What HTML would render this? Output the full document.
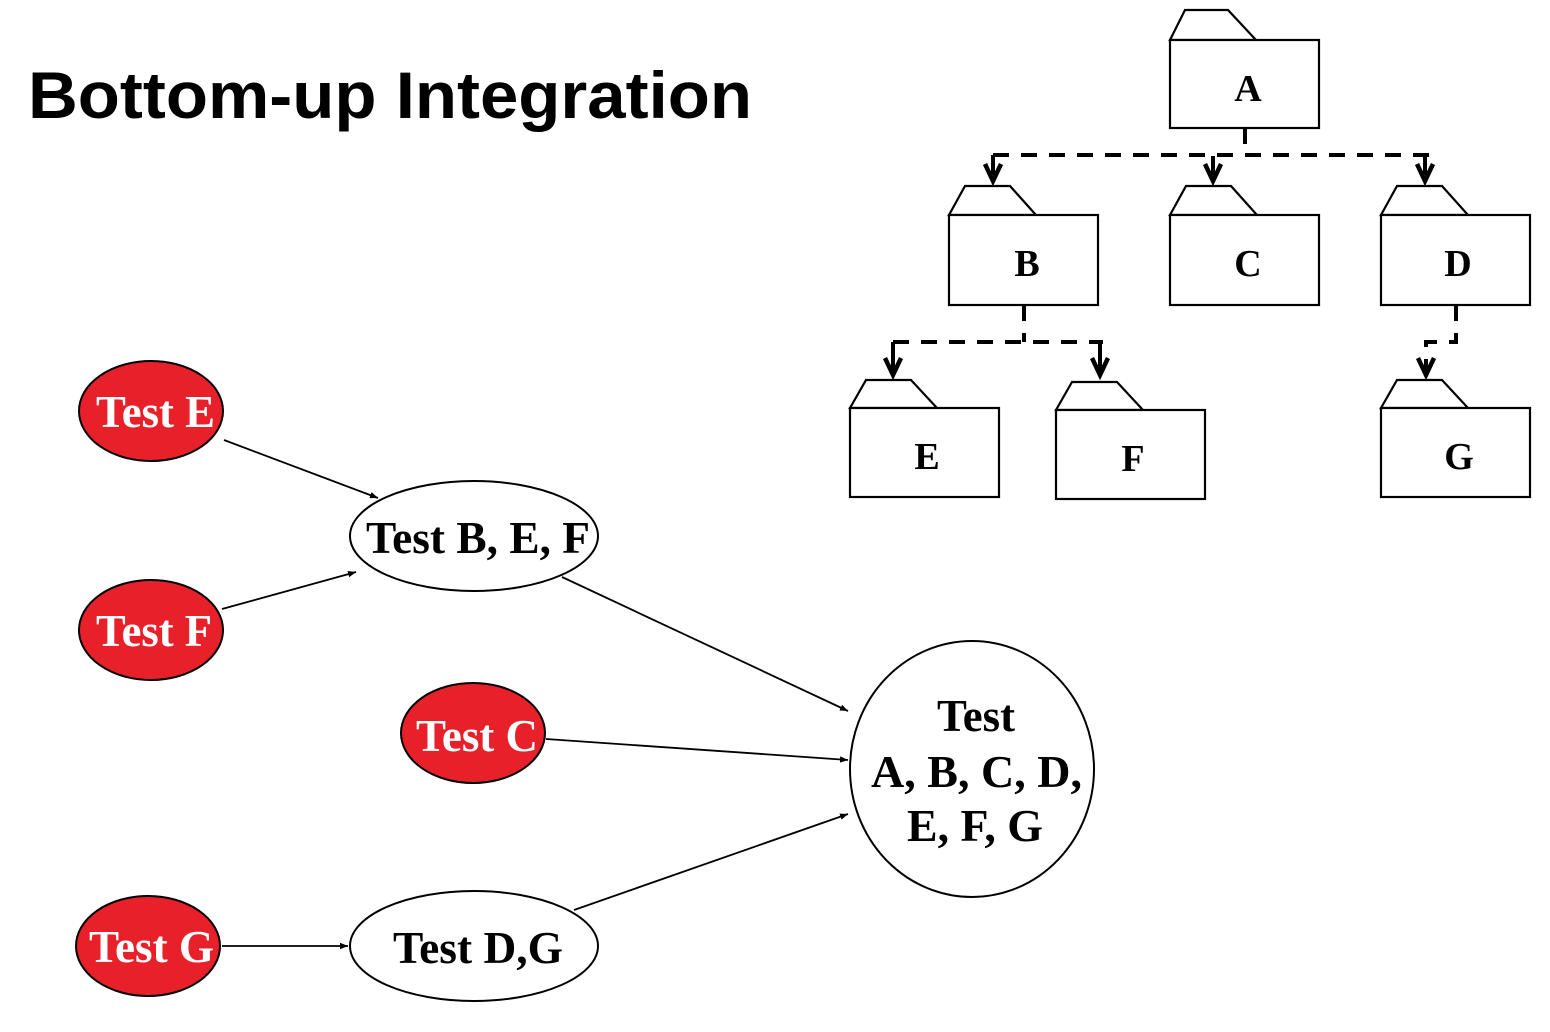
<!DOCTYPE html>
<html><head><meta charset="utf-8"><style>
html,body{margin:0;padding:0;background:#fff;}
svg{display:block;}
.fl{fill:#fff;stroke:#000;stroke-width:2.2;}
.lb{font-family:"Liberation Serif",serif;font-weight:bold;font-size:38px;text-anchor:middle;fill:#000;}
.ah{fill:none;stroke:#000;stroke-width:4.5;stroke-linejoin:miter;}
.red{fill:#e8202a;stroke:#000;stroke-width:2;}
.wh{fill:#fff;stroke:#000;stroke-width:2;}
.rt{font-family:"Liberation Serif",serif;font-weight:bold;font-size:45px;fill:#fff;}
.bt{font-family:"Liberation Serif",serif;font-weight:bold;font-size:45px;fill:#000;}
.ln{stroke:#000;stroke-width:1.8;fill:none;}
</style></head><body>
<svg width="1550" height="1032" viewBox="0 0 1550 1032">
<defs><marker id="m" viewBox="0 0 10 10" refX="10" refY="5" markerWidth="8" markerHeight="8" markerUnits="userSpaceOnUse" orient="auto"><path d="M0,1 L10,5 L0,9 z" fill="#000"/></marker></defs>
<text x="28" y="118" font-family="'Liberation Sans',sans-serif" font-weight="bold" font-size="66" textLength="724" lengthAdjust="spacingAndGlyphs">Bottom-up Integration</text>

<g><polygon class="fl" points="1170,40 1185,10 1228,10 1256,40"/><rect class="fl" x="1170" y="40" width="149" height="88"/><text class="lb" x="1248" y="101">A</text></g>
<g><polygon class="fl" points="949,215 965,186 1010,186 1036,215"/><rect class="fl" x="949" y="215" width="149" height="90"/><text class="lb" x="1027" y="276">B</text></g>
<g><polygon class="fl" points="1170,215 1186,186 1231,186 1257,215"/><rect class="fl" x="1170" y="215" width="149" height="90"/><text class="lb" x="1248" y="276">C</text></g>
<g><polygon class="fl" points="1381,215 1397,186 1442,186 1468,215"/><rect class="fl" x="1381" y="215" width="149" height="90"/><text class="lb" x="1458" y="276">D</text></g>
<g><polygon class="fl" points="850,408 866,380 911,380 937,408"/><rect class="fl" x="850" y="408" width="149" height="89"/><text class="lb" x="927" y="469">E</text></g>
<g><polygon class="fl" points="1056,410 1072,382 1117,382 1143,410"/><rect class="fl" x="1056" y="410" width="149" height="89"/><text class="lb" x="1133" y="471">F</text></g>
<g><polygon class="fl" points="1381,408 1397,380 1442,380 1468,408"/><rect class="fl" x="1381" y="408" width="149" height="89"/><text class="lb" x="1459" y="469">G</text></g>

<path d="M1245,128 V148 M993,155 H1430" stroke="#000" stroke-width="4" stroke-dasharray="16,12" fill="none"/>
<path d="M993,155 V175 M1213,156 V175 M1425,157 V175" stroke="#000" stroke-width="4" fill="none"/>
<path class="ah" d="M985,164 L993,181 L1001,164 M1205,164 L1213,181 L1221,164 M1417,164 L1425,181 L1433,164"/>
<path d="M1024,305 V342 M893,342 H1103" stroke="#000" stroke-width="4" stroke-dasharray="16,12" fill="none"/>
<path d="M893,342 V370 M1100,342 V370" stroke="#000" stroke-width="4" fill="none"/>
<path class="ah" d="M885,358 L893,375 L901,358 M1092,358 L1100,375 L1108,358"/>
<path d="M1456,305 V342 H1426 V370" stroke="#000" stroke-width="4" stroke-dasharray="16,12" fill="none"/>
<path class="ah" d="M1418,358 L1426,375 L1434,358"/>

<g>
<line class="ln" x1="224" y1="440" x2="378" y2="498" marker-end="url(#m)"/>
<line class="ln" x1="222" y1="609" x2="356" y2="572" marker-end="url(#m)"/>
<line class="ln" x1="562" y1="577" x2="848" y2="711" marker-end="url(#m)"/>
<line class="ln" x1="546" y1="739" x2="848" y2="760" marker-end="url(#m)"/>
<line class="ln" x1="574" y1="910" x2="848" y2="814" marker-end="url(#m)"/>
<line class="ln" x1="222" y1="946" x2="348" y2="946" marker-end="url(#m)"/>
</g>

<g><ellipse class="red" cx="151" cy="411" rx="72" ry="50"/><text class="rt" x="96" y="427" textLength="119" lengthAdjust="spacingAndGlyphs">Test E</text></g>
<g><ellipse class="red" cx="151" cy="630" rx="72" ry="50"/><text class="rt" x="96" y="646" textLength="116" lengthAdjust="spacingAndGlyphs">Test F</text></g>
<g><ellipse class="red" cx="473" cy="733" rx="72" ry="50"/><text class="rt" x="416" y="751" textLength="122" lengthAdjust="spacingAndGlyphs">Test C</text></g>
<g><ellipse class="red" cx="148" cy="946" rx="72" ry="50"/><text class="rt" x="89" y="962" textLength="125" lengthAdjust="spacingAndGlyphs">Test G</text></g>
<g><ellipse class="wh" cx="474" cy="536" rx="124" ry="55"/><text class="bt" x="366" y="553" textLength="224" lengthAdjust="spacingAndGlyphs">Test B, E, F</text></g>
<g><ellipse class="wh" cx="474" cy="946" rx="124" ry="55"/><text class="bt" x="393" y="963" textLength="170" lengthAdjust="spacingAndGlyphs">Test D,G</text></g>
<g><ellipse class="wh" cx="972" cy="769" rx="122" ry="128"/>
<text class="bt" x="937" y="731" textLength="78" lengthAdjust="spacingAndGlyphs">Test</text><text class="bt" x="871" y="787" textLength="211" lengthAdjust="spacingAndGlyphs">A, B, C, D,</text><text class="bt" x="907" y="841" textLength="136" lengthAdjust="spacingAndGlyphs">E, F, G</text></g>
</svg>
</body></html>
